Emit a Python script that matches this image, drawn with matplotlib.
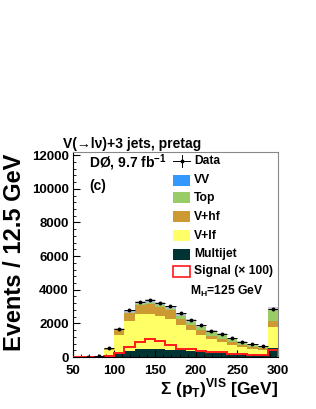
import numpy as np
import matplotlib
matplotlib.use("Agg")
import matplotlib.pyplot as plt
from matplotlib.patches import Rectangle

plt.rcParams['font.family'] = ['Liberation Sans', 'DejaVu Sans']
plt.rcParams['font.weight'] = 'bold'
plt.rcParams['mathtext.fontset'] = 'custom'
plt.rcParams['mathtext.rm'] = 'Liberation Sans:bold'
plt.rcParams['mathtext.bf'] = 'Liberation Sans:bold'

# binning: 12.5 GeV bins, last one holds the overflow
edges = np.arange(50, 300.1, 12.5)

# event counts per bin
data = [0, 5, 40, 530, 1670, 2770, 3300, 3400, 3230, 3020,
        2590, 2210, 1880, 1550, 1380, 1110, 900, 760, 640, 2870]
multijet = [0, 2, 15, 120, 220, 380, 460, 480, 450, 420,
            390, 350, 300, 260, 230, 200, 170, 150, 130, 540]
vlf = [0, 0, 15, 295, 1120, 1770, 2100, 2080, 2005, 1830,
       1490, 1235, 1030, 790, 640, 495, 405, 345, 285, 1230]
vhf = [0, 0, 5, 85, 240, 470, 560, 600, 505, 540,
       400, 335, 275, 210, 200, 175, 140, 100, 100, 370]
top = [0, 0, 2, 20, 40, 70, 70, 90, 150, 120,
       220, 220, 235, 260, 270, 200, 165, 155, 125, 710]
vv = [0, 0, 0, 5, 20, 40, 60, 80, 60, 60,
      50, 30, 25, 20, 20, 15, 15, 10, 10, 30]
unc = [0, 0, 2, 20, 60, 90, 100, 100, 100, 90,
       80, 70, 60, 50, 45, 40, 35, 30, 25, 90]
signal = [0, 0, 5, 60, 260, 600, 870, 1050, 940, 700,
          500, 450, 380, 320, 280, 210, 160, 140, 120, 390]

labels = ['Multijet', 'V+lf', 'V+hf', 'Top', 'VV']
colors = ['#003333', '#ffff66', '#cc9933', '#99cc66', '#3399ff']

fig = plt.figure(figsize=(3.16, 4.09), dpi=100)
ax = fig.add_axes([0.231, 0.127, 0.649, 0.501])

# stacked backgrounds
bottom = np.zeros(len(data))
for vals, col in zip([multijet, vlf, vhf, top, vv], colors):
    vals = np.array(vals, dtype=float)
    ax.stairs(bottom + vals, edges, baseline=bottom, fill=True, color=col, lw=0)
    bottom = bottom + vals

# uncertainty band on the total
unc = np.array(unc, dtype=float)
ax.stairs(bottom + unc, edges, baseline=bottom - unc, fill=True,
          color='#b8bcc8', alpha=0.8, lw=0)

# signal x100
ax.stairs(signal, edges, color='#ff1a1a', lw=1.4, zorder=4)

# data
centers = 0.5 * (edges[:-1] + edges[1:])
d = np.array(data, dtype=float)
m = d > 0
ax.errorbar(centers[m], d[m], xerr=6.25, yerr=np.sqrt(d[m]), fmt='o',
            color='black', ms=1.8, lw=0.7, capsize=0, zorder=5)

ax.set_xlim(50, 300)
ax.set_ylim(0, 12180)
ax.set_xticks([50, 100, 150, 200, 250, 300])
ax.set_xticks(np.arange(50, 301, 10), minor=True)
ax.set_yticks(np.arange(0, 12001, 2000))
ax.set_yticks(np.arange(0, 12001, 400), minor=True)
ax.tick_params(which='both', direction='in', top=False, right=False)
ax.tick_params(which='major', length=5, width=0.8, labelsize=9.5, pad=3)
ax.tick_params(axis='x', which='major', pad=6)
ax.tick_params(which='minor', length=2.5, width=0.6)
for lab in ax.get_xticklabels() + ax.get_yticklabels():
    lab.set_fontweight('bold')
for sp in ax.spines.values():
    sp.set_linewidth(0.8)
for sp in ['top', 'right']:
    ax.spines[sp].set_color('#888888')

# legend drawn by hand
tx = 0.590
bx, bw, bh = 0.488, 0.083, 0.054
ax.plot([bx, bx + bw], [0.956, 0.956], color='black', lw=0.7, transform=ax.transAxes)
ax.plot([bx + bw / 2] * 2, [0.956 - 0.03, 0.956 + 0.03], color='black', lw=0.7,
        transform=ax.transAxes)
ax.plot([bx + bw / 2], [0.956], 'o', color='black', ms=1.8, transform=ax.transAxes)
ax.text(tx, 0.956, 'Data', transform=ax.transAxes, va='center', fontsize=8.7)
rows = [('VV', '#3399ff', 0.863), ('Top', '#99cc66', 0.777),
        ('V+hf', '#cc9933', 0.685), ('V+lf', '#ffff66', 0.592),
        ('Multijet', '#003333', 0.502)]
for lab, col, y in rows:
    ax.add_patch(Rectangle((bx, y - bh / 2), bw, bh, transform=ax.transAxes,
                           facecolor=col, edgecolor='none'))
    ax.text(tx, y, lab, transform=ax.transAxes, va='center', fontsize=8.7)
ax.add_patch(Rectangle((bx, 0.419 - bh / 2), bw, bh, transform=ax.transAxes,
                       facecolor='white', edgecolor='#ff1a1a', lw=1.2))
ax.text(tx, 0.419, 'Signal (\u00d7 100)', transform=ax.transAxes, va='center', fontsize=8.7)
ax.text(0.571, 0.322, r'M$_\mathregular{H}$=125 GeV', transform=ax.transAxes,
        va='center', fontsize=8.7)

ax.text(0.078, 0.948, r'DØ, 9.7 fb$^\mathregular{-1}$', transform=ax.transAxes,
        va='center', fontsize=10)
ax.text(0.078, 0.836, '(c)', transform=ax.transAxes, va='center', fontsize=10)

fig.text(0.199, 0.638, 'V(\u2192l\u03bd)+3 jets, pretag', fontsize=10, va='baseline')
fig.text(0.047, 0.384, 'Events / 12.5 GeV', rotation=90, fontsize=17,
         va='center', ha='center')
fig.text(0.880, 0.052, r'Σ (p$_\mathregular{T}$)$^\mathregular{VIS}$ [GeV]',
         ha='right', va='center', fontsize=12.5)

fig.savefig('out.png', dpi=100)
